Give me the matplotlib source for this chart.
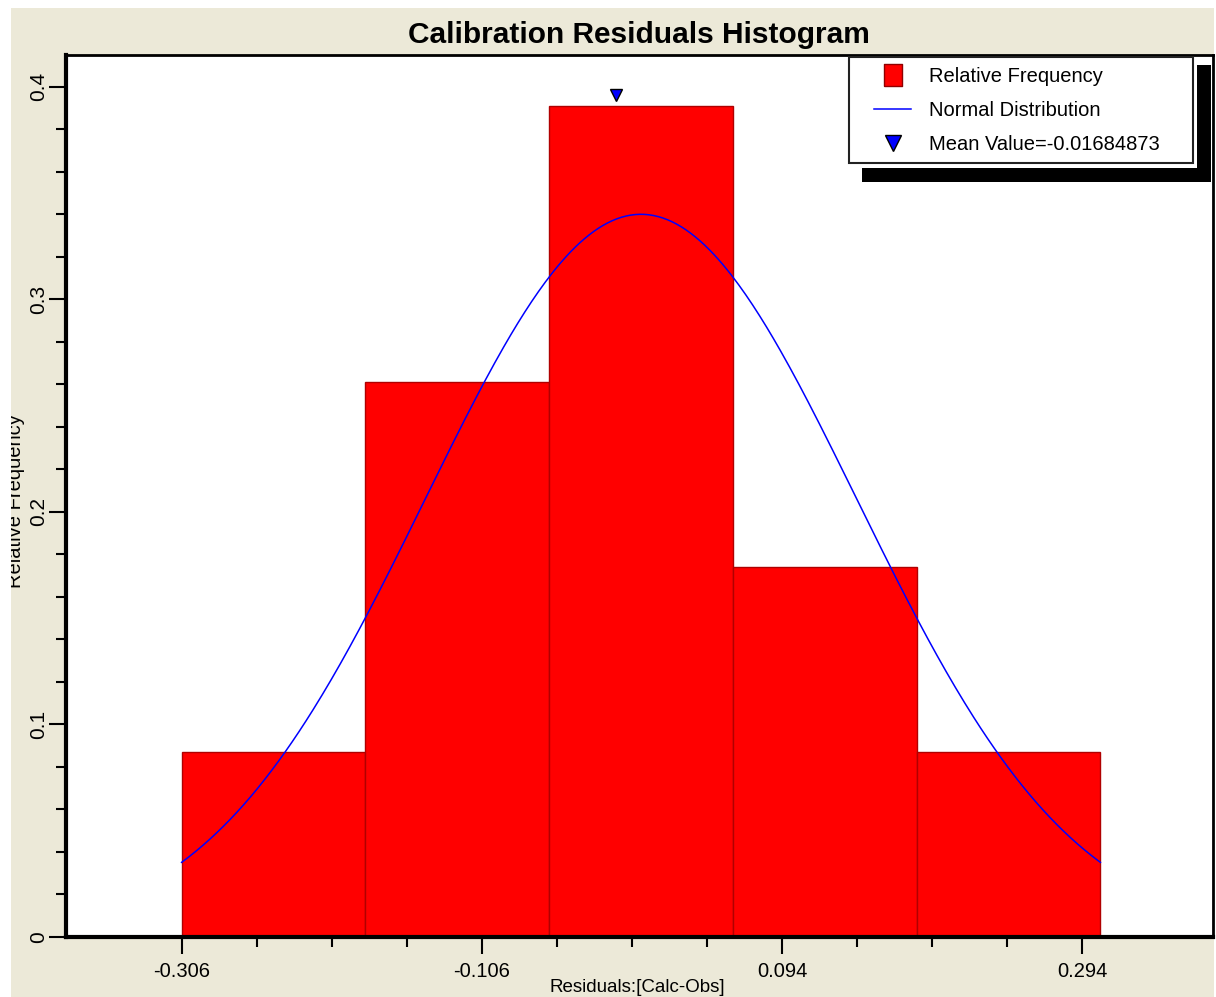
import matplotlib
matplotlib.use('Agg')

import numpy as np
import matplotlib.pyplot as plt
from matplotlib.patches import Rectangle
from matplotlib.lines import Line2D
from matplotlib.ticker import FixedLocator

plt.rcParams['font.family'] = ['Liberation Sans', 'DejaVu Sans']

# histogram data
bin_edges = [-0.306, -0.1836, -0.0612, 0.0612, 0.1836, 0.306]
rel_freq = [0.087, 0.261, 0.391, 0.174, 0.087]
mean_value = -0.01684873
mean_marker_y = 0.396

# normal curve parameters
curve_mu = 0.0
curve_sigma = 0.1436
curve_range = [-0.306, 0.306]

x_major = [-0.306, -0.106, 0.094, 0.294]
x_labels = ['-0.306', '-0.106', '0.094', '0.294']
y_major = [0, 0.1, 0.2, 0.3, 0.4]
y_labels = ['0', '0.1', '0.2', '0.3', '0.4']

W, H = 1216, 997
bg = '#ECE9D8'


def px_rect(x0, y0, x1, y1, **kw):
    # rectangle given in pixels measured from the top left corner
    return Rectangle((x0, H - y1), x1 - x0, y1 - y0, transform=None,
                     clip_on=False, **kw)


fig = plt.figure(figsize=(W / 100, H / 100), dpi=100)
fig.patch.set_facecolor('white')
# beige panel
fig.patches.append(Rectangle((11 / W, 0), (1214 - 11) / W, (H - 8) / H,
                             transform=fig.transFigure, facecolor=bg,
                             edgecolor='none', zorder=-10))

ax = fig.add_axes([66 / W, (H - 937) / H, (1213 - 66) / W, (937 - 55) / H])
ax.set_facecolor('white')

widths = np.diff(bin_edges)
ax.bar(bin_edges[:-1], rel_freq, width=widths, align='edge', color='#FF0000',
       edgecolor='#B00000', linewidth=1.0, zorder=2)

xs = np.linspace(curve_range[0], curve_range[1], 400)
bw = widths[0]
ys = bw / (curve_sigma * np.sqrt(2 * np.pi)) * np.exp(-(xs - curve_mu) ** 2 / (2 * curve_sigma ** 2))
ax.plot(xs, ys, color='#0000FF', linewidth=1.1, zorder=3)

ax.plot([mean_value], [mean_marker_y], marker='v', markersize=9,
        markerfacecolor='#0000FF', markeredgecolor='black', linestyle='None', zorder=4)

ax.set_xlim(-0.383, 0.381)
ax.set_ylim(0, 0.415)

ax.xaxis.set_major_locator(FixedLocator(x_major))
ax.set_xticklabels(x_labels)
ax.xaxis.set_minor_locator(FixedLocator([-0.256, -0.206, -0.156, -0.056, -0.006, 0.044,
                                         0.144, 0.194, 0.244]))
ax.yaxis.set_major_locator(FixedLocator(y_major))
ax.set_yticklabels(y_labels, rotation=90, va='center')
ax.yaxis.set_minor_locator(FixedLocator(np.arange(0.02, 0.41, 0.02)))

ax.tick_params(which='major', length=12, width=1.5, labelsize=14.5, pad=6)
ax.tick_params(which='minor', length=7, width=1.5)
ax.tick_params(axis='y', which='major', pad=1, labelsize=15)

for s in ['left', 'bottom']:
    ax.spines[s].set_linewidth(3)
for s in ['top', 'right']:
    ax.spines[s].set_linewidth(2)

# title and axis labels
fig.text(639 / W, (H - 35) / H, 'Calibration Residuals Histogram', ha='center',
         va='center', fontsize=21.5, fontweight='bold')
fig.text(637 / W, 1.5 / H, 'Residuals:[Calc-Obs]', ha='center', va='bottom',
         fontsize=13.5)
fig.text(25 / W, 496 / H, 'Relative Frequency', rotation=90, ha='right',
         va='center', fontsize=14.5, zorder=3)
# white margin strip of the screenshot (covering part of the y label)
fig.patches.append(Rectangle((0, 0), 11 / W, 1, transform=fig.transFigure,
                             facecolor='white', edgecolor='none', zorder=10))

# legend box with its heavy shadow
ax.add_patch(px_rect(862, 65, 1211, 182, facecolor='black', edgecolor='none', zorder=5.1))
ax.add_patch(px_rect(849, 57, 1197, 168, facecolor='white', edgecolor='none', zorder=5.2))
ax.add_patch(px_rect(849, 57, 1193, 163, facecolor='white', edgecolor='#222222',
                     linewidth=1.5, zorder=5.3))

box_marker = [(-0.4, -0.5), (0.4, -0.5), (0.4, 0.5), (-0.4, 0.5), (-0.4, -0.5)]
handles = [
    Line2D([], [], marker=box_marker, markersize=16.5, markerfacecolor='#FF0000',
           markeredgecolor='#900000', markeredgewidth=1, linestyle='None'),
    Line2D([], [], color='#0000FF', linewidth=1.1),
    Line2D([], [], marker='v', markersize=11, markerfacecolor='#0000FF',
           markeredgecolor='black', linestyle='None'),
]
labels = ['Relative Frequency', 'Normal Distribution',
          'Mean Value=%.8f' % mean_value]
leg = ax.legend(handles, labels, loc='upper left',
                bbox_to_anchor=(864 / W, (H - 57) / H), bbox_transform=fig.transFigure,
                borderaxespad=0, fontsize=14.5, frameon=False, borderpad=0.5,
                labelspacing=0.75, handlelength=1.84, handletextpad=0.9)
leg.set_zorder(6)

fig.savefig('out.png', dpi=100, facecolor=fig.get_facecolor())
